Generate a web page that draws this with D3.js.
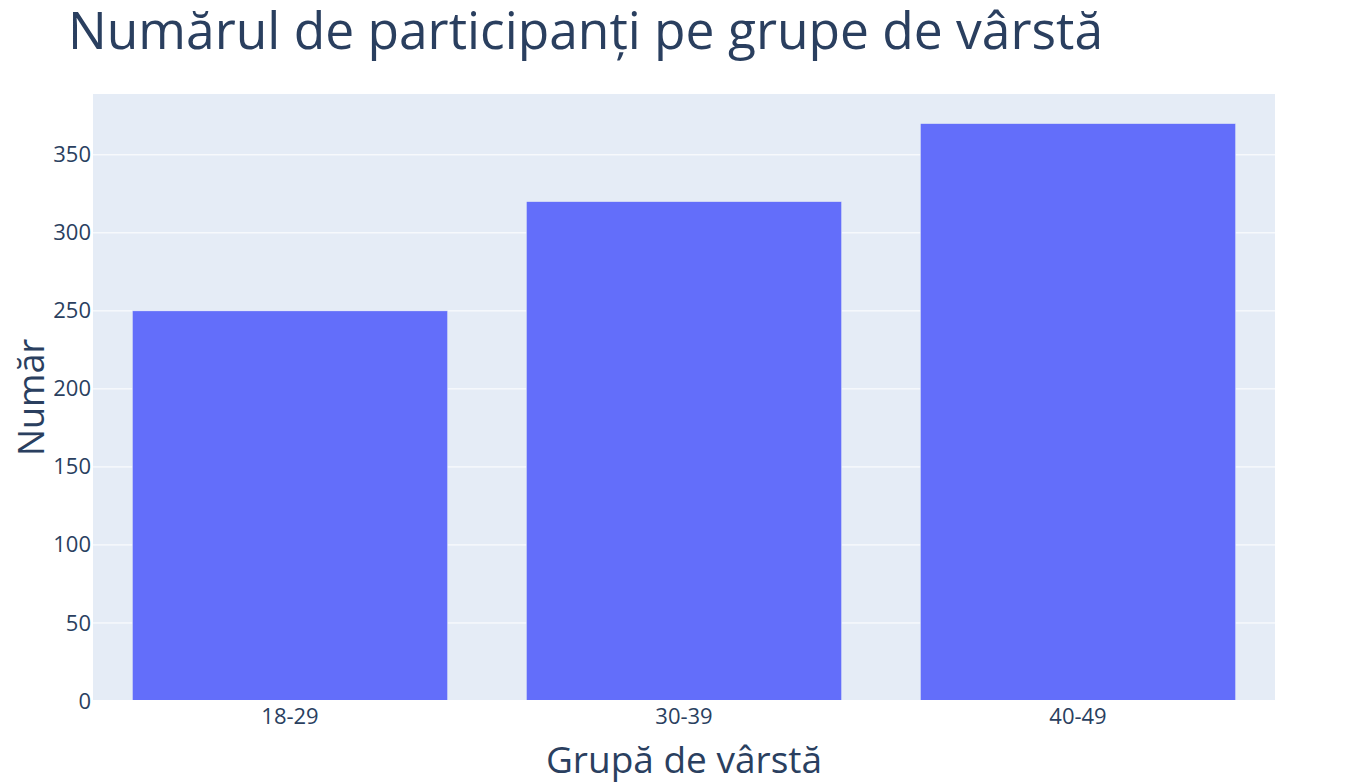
<!DOCTYPE html>
<html><head><meta charset="utf-8">
<script src="https://cdn.jsdelivr.net/npm/d3@7"></script>
<style>body{margin:0;background:#fff;}svg{display:block;font-family:"Open Sans",sans-serif;}</style>
</head><body>
<svg id="c" width="1350" height="784"></svg>
<script>
const categories = ["18-29", "30-39", "40-49"];
const values = [250, 320, 370];
const yTicks = [0, 50, 100, 150, 200, 250, 300, 350];
const titleText = "Numărul de participanți pe grupe de vârstă";
const xTitle = "Grupă de vârstă";
const yTitle = "Număr";

const svg = d3.select("#c");
const m = {l: 93, r: 75, t: 94, b: 83};
const W = 1350, H = 784;
const iw = W - m.l - m.r, ih = H - m.t - m.b;

const x = d3.scaleBand().domain(categories).range([m.l, m.l + iw]).paddingInner(0.2).paddingOuter(0.1);
const y = d3.scaleLinear().domain([0, d3.max(values) * 1.0513]).range([m.t + ih, m.t]);

svg.append("rect").attr("x", m.l).attr("y", m.t).attr("width", iw).attr("height", ih).attr("fill", "#e5ecf6");

svg.append("g").selectAll("line").data(yTicks.filter(d => d > 0)).join("line")
  .attr("x1", m.l).attr("x2", m.l + iw).attr("y1", d => y(d)).attr("y2", d => y(d))
  .attr("stroke", "#fff").attr("stroke-width", 1);

svg.append("g").selectAll("rect").data(values).join("rect")
  .attr("x", (d, i) => x(categories[i])).attr("width", x.bandwidth())
  .attr("y", d => y(d)).attr("height", d => y(0) - y(d))
  .attr("fill", "#636efa").attr("stroke", "#e5ecf6").attr("stroke-width", 0.5);

svg.append("line").attr("x1", m.l).attr("x2", m.l + iw).attr("y1", y(0)).attr("y2", y(0))
  .attr("stroke", "#fff").attr("stroke-width", 2);

const yAxis = d3.axisLeft(y).tickValues(yTicks).tickSize(0).tickPadding(2);
const gy = svg.append("g").attr("transform", `translate(${m.l},0)`).call(yAxis);
gy.select(".domain").remove();
gy.selectAll("text").attr("fill", "#2a3f5f").style("font-size", "22px").style("font-family", "Open Sans");

const xAxis = d3.axisBottom(x).tickSize(0).tickPadding(7);
const gx = svg.append("g").attr("transform", `translate(0,${m.t + ih})`).call(xAxis);
gx.select(".domain").remove();
gx.selectAll("text").attr("fill", "#2a3f5f").style("font-size", "22px").style("font-family", "Open Sans");

svg.append("text").attr("x", 68).attr("y", 49).attr("fill", "#2a3f5f")
  .style("font-size", "51.5px").text(titleText);

svg.append("text").attr("x", m.l + iw / 2).attr("y", 773).attr("text-anchor", "middle")
  .attr("fill", "#2a3f5f").style("font-size", "37px").text(xTitle);

svg.append("text").attr("transform", `translate(44,${m.t + ih / 2}) rotate(-90)`).attr("text-anchor", "middle")
  .attr("fill", "#2a3f5f").style("font-size", "36px").text(yTitle);
</script>
</body></html>
